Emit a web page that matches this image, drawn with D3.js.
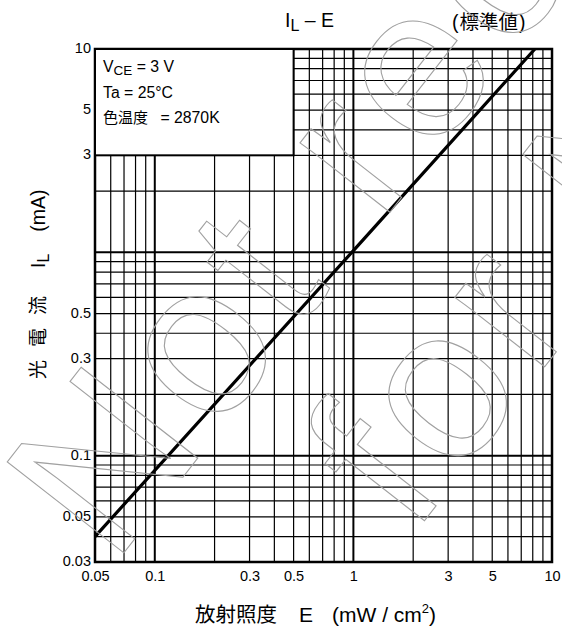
<!DOCTYPE html>
<html>
<head>
<meta charset="utf-8">
<script src="https://cdn.jsdelivr.net/npm/d3@7"></script>
<style>
  body { margin: 0; background: #fff; }
  text { font-family: "Liberation Sans", Arial, sans-serif; }
  .cjk { font-family: "Noto Sans CJK JP", sans-serif; }
</style>
</head>
<body>
<svg id="chart" width="562" height="634"></svg>
<script>
// irradiance E (mW/cm2) vs light current IL (mA)
const irradiance = [0.05, 1, 8.2];
const lightCurrent = [0.04, 1.02, 10];

const xTickLabels = [0.05, 0.1, 0.3, 0.5, 1, 3, 5, 10];
const yTickLabels = [0.03, 0.05, 0.1, 0.3, 0.5, 3, 5, 10];

const conditions = ["VCE = 3 V", "Ta = 25°C", "色温度  = 2870K"];
const watermarkWords = ["Not", "recommended", "for New Design"];

const margin = { top: 49, right: 10, bottom: 72, left: 95 };
const width = 562, height = 634;

const svg = d3.select("#chart");

const x = d3.scaleLog()
  .domain([0.05, 10])
  .range([margin.left, width - margin.right]);
const y = d3.scaleLog()
  .domain([0.03, 10])
  .range([height - margin.bottom, margin.top]);

const isDecade = (v) => Math.abs(Math.log10(v) - Math.round(Math.log10(v))) < 1e-6;

// grid
const grid = svg.append("g").attr("class", "grid");
grid.selectAll(".vline")
  .data(x.ticks())
  .enter()
  .append("line")
  .attr("x1", (d) => x(d))
  .attr("x2", (d) => x(d))
  .attr("y1", y(0.03))
  .attr("y2", y(10))
  .style("stroke", "#000")
  .style("stroke-width", (d) => (isDecade(d) ? 2 : 1.2));
grid.selectAll(".hline")
  .data(y.ticks())
  .enter()
  .append("line")
  .attr("x1", x(0.05))
  .attr("x2", x(10))
  .attr("y1", (d) => y(d))
  .attr("y2", (d) => y(d))
  .style("stroke", "#000")
  .style("stroke-width", (d) => (isDecade(d) ? 2 : 1.2));

// frame
svg.append("rect")
  .attr("x", x(0.05))
  .attr("y", y(10))
  .attr("width", x(10) - x(0.05))
  .attr("height", y(0.03) - y(10))
  .style("fill", "none")
  .style("stroke", "#000")
  .style("stroke-width", 2.5);

// condition box covering upper-left grid
const box = svg.append("g");
box.append("rect")
  .attr("x", x(0.05))
  .attr("y", y(10))
  .attr("width", x(0.5) - x(0.05))
  .attr("height", y(3) - y(10))
  .style("fill", "#fff")
  .style("stroke", "#000")
  .style("stroke-width", 2);

const condText = box.selectAll(".cond")
  .data(conditions)
  .enter()
  .append("text")
  .attr("x", x(0.05) + 8)
  .attr("y", (d, i) => y(10) + 23 + i * 25.5)
  .style("font-size", "15.8px")
  .style("fill", "#000");
condText.each(function (d, i) {
  const t = d3.select(this);
  if (i === 0) {
    t.append("tspan").text("V");
    t.append("tspan").attr("dy", 3).style("font-size", "13.5px").text("CE");
    t.append("tspan").attr("dy", -3).text(" = 3 V");
  } else if (i === 2) {
    t.append("tspan").attr("class", "cjk").style("font-size", "15px").text("色温度");
    t.append("tspan").attr("dx", 8).text(" = 2870K");
  } else {
    t.text(d);
  }
});

// characteristic line
const line = d3.line()
  .x((d) => x(d[0]))
  .y((d) => y(d[1]));
svg.append("path")
  .datum(d3.zip(irradiance, lightCurrent))
  .attr("d", line)
  .style("fill", "none")
  .style("stroke", "#000")
  .style("stroke-width", 3.2);

// axes
const xAxis = d3.axisBottom(x)
  .tickValues(xTickLabels)
  .tickSize(0)
  .tickPadding(8)
  .tickFormat((d) => String(d));
svg.append("g")
  .attr("transform", `translate(0,${y(0.03) + 1})`)
  .call(xAxis)
  .call((g) => g.select(".domain").remove())
  .selectAll("text")
  .style("font-family", '"Liberation Sans", Arial, sans-serif')
  .style("font-size", "14.5px")
  .style("fill", "#000");

const yAxis = d3.axisLeft(y)
  .tickValues(yTickLabels)
  .tickSize(0)
  .tickPadding(3)
  .tickFormat((d) => String(d));
svg.append("g")
  .attr("transform", `translate(${x(0.05) - 1},-1)`)
  .call(yAxis)
  .call((g) => g.select(".domain").remove())
  .selectAll("text")
  .style("font-family", '"Liberation Sans", Arial, sans-serif')
  .style("font-size", "14.5px")
  .style("fill", "#000");

// titles
const title = svg.append("text")
  .attr("x", 285)
  .attr("y", 27)
  .style("font-size", "19.5px");
title.append("tspan").text("I");
title.append("tspan").attr("dy", 4).style("font-size", "16px").text("L");
title.append("tspan").attr("dy", -4).text(" – E");

const note = svg.append("text")
  .attr("x", 452)
  .attr("y", 29)
  .style("font-size", "19.5px");
note.append("tspan").text("(");
note.append("tspan").attr("class", "cjk").attr("dx", 1).text("標準値");
note.append("tspan").attr("dx", 1).text(")");

const xLabel = svg.append("text")
  .attr("x", 195)
  .attr("y", 622)
  .style("font-size", "21px");
xLabel.append("tspan").attr("class", "cjk").style("font-size", "20.5px").text("放射照度");
xLabel.append("tspan").attr("dx", 22).text("E");
xLabel.append("tspan").attr("dx", 19).text("(mW / cm");
xLabel.append("tspan").attr("dy", -9).style("font-size", "13px").text("2");
xLabel.append("tspan").attr("dy", 9).text(")");

const yLabel = svg.append("text")
  .attr("transform", "translate(45,379) rotate(-90)")
  .style("font-size", "19.5px");
const yChars = ["光", "電", "流"];
yChars.forEach((c, i) => {
  yLabel.append("tspan").attr("class", "cjk").attr("dx", i ? 13 : 0)
    .style("font-size", "19px").text(c);
});
yLabel.append("tspan").attr("dx", 28).text("I");
yLabel.append("tspan").attr("dy", 4).style("font-size", "16px").text("L");
yLabel.append("tspan").attr("dy", -4).attr("dx", 22).text("(mA)");

// outlined watermark, drawn over everything
const wmPos = [
  [-377, 438],
  [58, 438],
  [-168, 655],
];
svg.append("g")
  .attr("transform", "rotate(-52)")
  .selectAll("text")
  .data(watermarkWords)
  .enter()
  .append("text")
  .attr("x", (d, i) => wmPos[i][0])
  .attr("y", (d, i) => wmPos[i][1])
  .style("font-size", "215px")
  .style("letter-spacing", "10px")
  .style("fill", "none")
  .style("stroke", "#a0a0a0")
  .style("stroke-width", 1.1)
  .text((d) => d);
</script>
</body>
</html>
